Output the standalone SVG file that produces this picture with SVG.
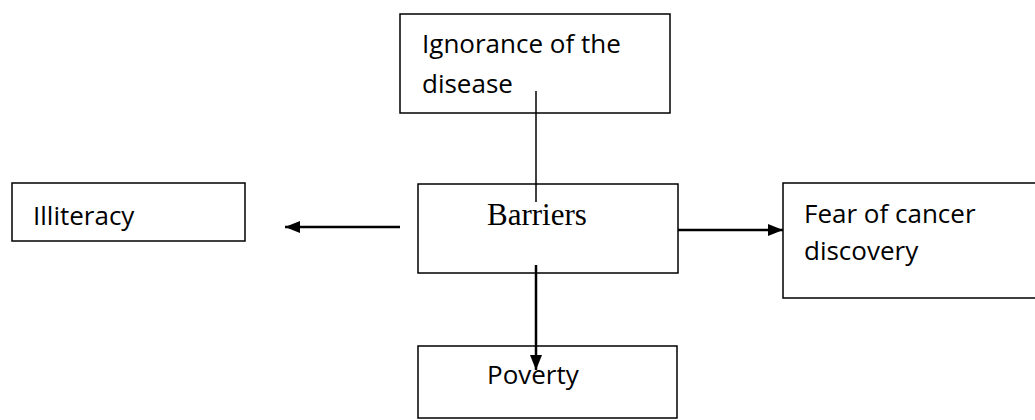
<svg xmlns="http://www.w3.org/2000/svg" width="1035" height="420" viewBox="0 0 1035 420">
<style>
.box{fill:#fff;stroke:#000;stroke-width:1.5}
.t{font-family:"Open Sans","Liberation Sans",sans-serif;font-size:26px;fill:#000}
.s{font-family:"Liberation Serif",serif;font-size:31px;fill:#000}
.c{stroke:#000;stroke-width:2.5;fill:none}
.thin{stroke:#000;stroke-width:1.5;fill:none}
</style>
<defs>
<marker id="ah" viewBox="0 0 15 12" refX="15" refY="6" markerWidth="15" markerHeight="12" markerUnits="userSpaceOnUse" orient="auto">
<path d="M0,0 L15,6 L0,12 Z" fill="#000"/>
</marker>
</defs>
<g id="ignorance">
<rect class="box" x="400" y="14" width="270" height="99"/>
<text class="t" x="422" y="53">Ignorance of the</text>
<text class="t" x="422" y="93">disease</text>
</g>
<g id="illiteracy">
<rect class="box" x="12" y="183" width="233" height="58"/>
<text class="t" x="33" y="225">Illiteracy</text>
</g>
<g id="barriers">
<rect class="box" x="418" y="184" width="260" height="89"/>
<text class="s" x="487" y="225">Barriers</text>
</g>
<g id="fear">
<rect class="box" x="783" y="183" width="260" height="115"/>
<text class="t" x="804" y="223">Fear of cancer</text>
<text class="t" x="804" y="260">discovery</text>
</g>
<g id="poverty">
<rect class="box" x="418" y="346" width="259" height="72"/>
<text class="t" x="487" y="384">Poverty</text>
</g>
<g id="connectors">
<line class="thin" x1="536" y1="91" x2="536" y2="202"/>
<line class="c" x1="400" y1="227" x2="285" y2="227" marker-end="url(#ah)"/>
<line class="c" x1="678" y1="230" x2="783" y2="230" marker-end="url(#ah)"/>
<line class="c" x1="536" y1="265" x2="536" y2="370" marker-end="url(#ah)"/>
</g>
</svg>
